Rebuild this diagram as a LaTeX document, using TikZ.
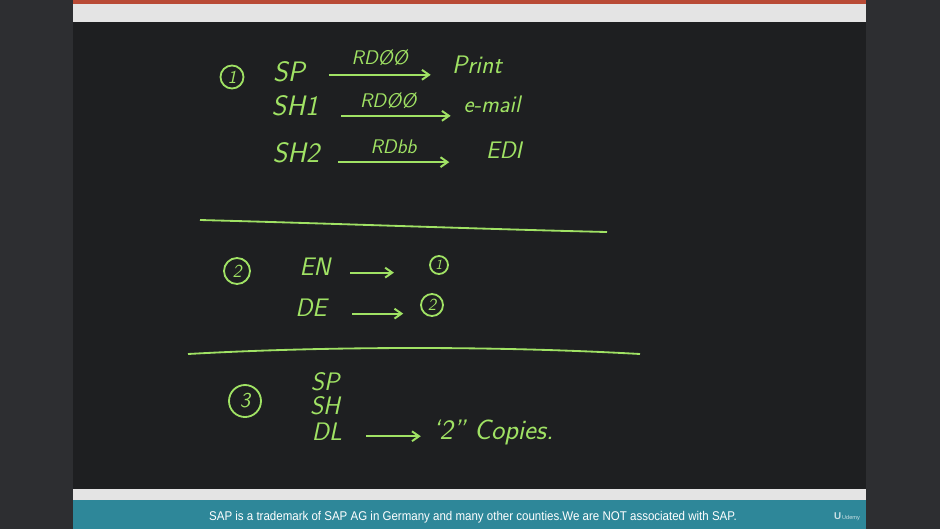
\documentclass[tikz,border=0pt]{standalone}
\usepackage{fontspec}
\newfontfamily\barfont{Liberation Sans}
\usepackage{xcolor}
\usetikzlibrary{arrows.meta, positioning}

\definecolor{fundo}{HTML}{2D2E31}
\definecolor{quadro}{HTML}{1E1F21}
\definecolor{faixa}{HTML}{E4E4E4}
\definecolor{topo}{HTML}{B84A35}
\definecolor{rodape}{HTML}{2E8799}
\definecolor{giz}{RGB}{160,226,100}

\begin{document}
\begin{tikzpicture}[
    x=0.025cm, y=-0.025cm,
    >={Straight Barb[length=5pt, width=7pt]},
    escrita/.style={
        text=giz,
        inner sep=0pt,
        font=\sffamily\slshape\fontsize{20}{22}\selectfont
    },
    menor/.style={escrita, font=\sffamily\slshape\fontsize{18}{20}\selectfont},
    rotulo/.style={escrita, font=\sffamily\slshape\fontsize{14}{16}\selectfont},
    numero/.style={
        circle,
        draw=giz,
        line width=1.3pt,
        text=giz,
        inner sep=0pt,
        font=\sffamily\slshape\fontsize{13}{14}\selectfont
    },
    seta/.style={->, draw=giz, line width=1.4pt},
    traco/.style={draw=giz, line width=1.3pt}
]

% moldura
\fill[fundo] (0,0) rectangle (940,529);
\fill[topo] (73,0) rectangle (866,4);
\fill[faixa] (73,4) rectangle (866,22);
\fill[quadro] (73,22) rectangle (866,489);
\fill[faixa] (73,489) rectangle (866,500);
\fill[rodape] (73,500) rectangle (866,529);

% parte 1
\node[numero, minimum size=23*0.025cm] (n1) at (232,77) {1};
\node[escrita] (sp) at (289,72) {SP};
\node[menor] (print) at (477,65) {Print};
\node[escrita] (sh1) at (295,106) {SH1};
\node[escrita, font=\sffamily\slshape\fontsize{17}{19}\selectfont] (email) at (492,104) {e-mail};
\node[escrita] (sh2) at (296,153) {SH2};
\node[escrita, font=\sffamily\slshape\fontsize{17}{19}\selectfont] (edi) at (504,150) {EDI};

\draw[seta] ([xshift=17pt,yshift=-2pt]sp.east) -- node[rotulo, above=6pt] (r1) {RDØØ} ([xshift=-15pt,yshift=-2pt]sp.east -| print.west);
\draw[seta] ([xshift=16pt,yshift=-7pt]sh1.east) -- node[rotulo, pos=0.43, above=4pt] (r2) {RDØØ} ([xshift=-9pt,yshift=-7pt]sh1.east -| email.west);
\draw[seta] ([xshift=13pt,yshift=-6.5pt]sh2.east) -- node[rotulo, above=5pt] (r3) {RDbb} ([xshift=-26pt,yshift=-6.5pt]sh2.east -| edi.west);

\draw[traco] (200,220) .. controls (350,224) and (480,229) .. (607,232);

% parte 2
\node[numero, minimum size=26*0.025cm] (n2) at (237,271) {2};
\node[menor] (en) at (315,267) {EN};
\node[numero, minimum size=18*0.025cm, font=\sffamily\slshape\fontsize{10}{11}\selectfont] (m1) at (439,265) {1};
\node[menor] (de) at (311,308) {DE};
\node[numero, minimum size=22*0.025cm, font=\sffamily\slshape\fontsize{12}{13}\selectfont] (m2) at (432,305) {2};

\draw[seta] ([xshift=14pt,yshift=-4pt]en.east) -- ([xshift=-25pt,yshift=-4pt]en.east -| m1.west);
\draw[seta] ([xshift=18pt,yshift=-4pt]de.east) -- ([xshift=-12pt,yshift=-4pt]de.east -| m2.west);

\draw[traco] (188,354) .. controls (330,346) and (500,346) .. (640,354);

% parte 3
\node[numero, minimum size=32*0.025cm, font=\sffamily\slshape\fontsize{15}{16}\selectfont] (n3) at (245,401) {3};
\node[menor] (sp3) at (325,382) {SP};
\node[menor] (sh3) at (325,406) {SH};
\node[menor] (dl) at (327,432) {DL};
\node[escrita, anchor=west] (copias) at (432,432) {`2'' Copies.};

\draw[seta] ([xshift=17pt,yshift=-3pt]dl.east) -- ([xshift=-8pt,yshift=-3pt]dl.east -| copias.west);

% rodape
\node[text=white, inner sep=0pt, font=\barfont\fontsize{9}{10}\selectfont, xscale=0.91, transform shape] (aviso) at (473,517) {SAP is a trademark of SAP AG in Germany and many other counties.We are NOT associated with SAP.};
\node[text=white!75!rodape, inner sep=0pt, font=\barfont\fontsize{4}{5}\selectfont] (logo) at (847,517) {\textbf{\fontsize{7}{8}\selectfont U}\,Udemy};

\end{tikzpicture}
\end{document}
